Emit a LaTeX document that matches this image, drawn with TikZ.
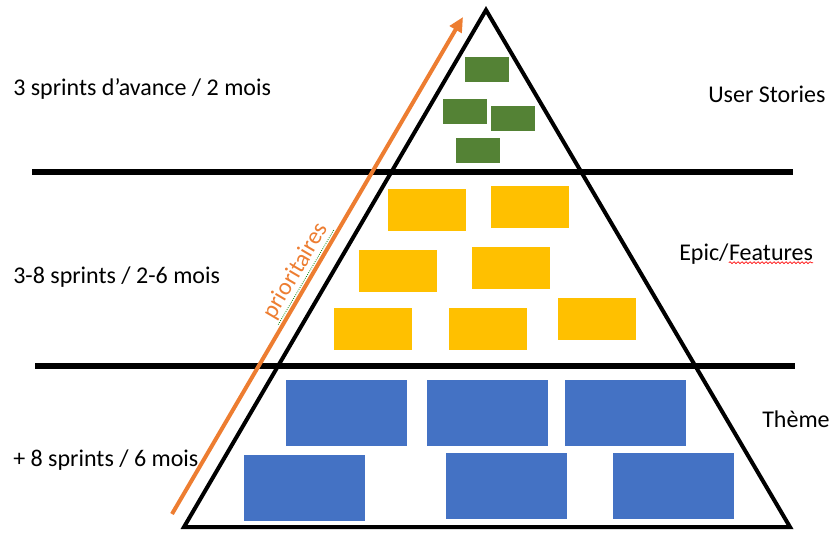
\documentclass[tikz,border=0pt]{standalone}
\usepackage{fontspec}
\setmainfont{Carlito}
\usetikzlibrary{arrows.meta,decorations.pathmorphing}

\begin{document}
\begin{tikzpicture}[x=0.75pt,y=-0.75pt,
  txt/.style={inner sep=0pt,font=\fontsize{18}{21}\selectfont},
  lvl/.style={line width=4.5pt},
  gbox/.style={fill=green!45!black!80,fill=usgreen,minimum width=33pt,minimum height=18.75pt,inner sep=0pt},
  ybox/.style={fill=epyellow,minimum width=58.5pt,minimum height=31.5pt,inner sep=0pt},
  bbox/.style={fill=thblue,minimum width=90.75pt,minimum height=49.5pt,inner sep=0pt}]
\definecolor{usgreen}{HTML}{548235}
\definecolor{epyellow}{HTML}{FFC000}
\definecolor{thblue}{HTML}{4472C4}
\definecolor{prorange}{HTML}{ED7D31}
\useasboundingbox (0,0) rectangle (840,537);

% pyramid
\coordinate (top) at (486,10);
\coordinate (bl) at (184,527);
\coordinate (br) at (790,527);
\draw[line width=3pt,line join=miter] (top) -- (br) -- (bl) -- cycle;

% levels
\coordinate (l1a) at (32,172);
\coordinate (l1b) at (793,172);
\coordinate (l2a) at (35,366);
\coordinate (l2b) at (795,366);
\draw[lvl] (l1a) -- (l1b);
\draw[lvl] (l2a) -- (l2b);

% user stories
\node[gbox] (g1) at (487,69.5) {};
\node[gbox] (g2) at (465,111) {};
\node[gbox] (g3) at (513,118) {};
\node[gbox] (g4) at (477.5,150) {};

% epics / features
\node[ybox] (y1) at (427,210) {};
\node[ybox] (y2) at (530,207) {};
\node[ybox] (y3) at (398,271) {};
\node[ybox] (y4) at (510.5,268) {};
\node[ybox] (y5) at (372.5,329) {};
\node[ybox] (y6) at (488,329) {};
\node[ybox] (y7) at (597,319) {};

% themes
\node[bbox] (b1) at (346.5,413) {};
\node[bbox] (b2) at (487.5,413) {};
\node[bbox] (b3) at (625.5,413) {};
\node[bbox] (b4) at (304.5,488) {};
\node[bbox] (b5) at (506.5,486) {};
\node[bbox] (b6) at (673.5,486) {};

% priority arrow
\coordinate (ps) at (172,514);
\coordinate (pe) at (463,17);
\draw[prorange,line width=3pt,-{Triangle[length=11pt,width=10pt]}] (ps) -- (pe);
\node[txt,prorange,rotate=59.6,inner sep=1pt] (prio) at (296,271) {prioritaires};
\draw[green!50!black,densely dotted,line width=0.6pt] (prio.south west) -- (prio.south east);

% left labels
\node[txt,anchor=base west] (h1) at (13,95) {3 sprints d’avance / 2 mois};
\node[txt,anchor=base west] (h2) at (13,283) {3-8 sprints / 2-6 mois};
\node[txt,anchor=base west] (h3) at (13,466) {+ 8 sprints / 6 mois};

% right labels
\node[txt,anchor=base west] (us) at (708,102) {User Stories};
\node[txt,anchor=base west] (epic) at (679,260) {Epic/};
\node[txt,anchor=base west] (feat) at (epic.base east) {Features};
\draw[red,line width=0.5pt,decorate,decoration={snake,amplitude=0.7pt,segment length=3pt}]
  ([yshift=-2pt]feat.base west) -- ([yshift=-2pt]feat.base east);
\node[txt,anchor=base west] (th) at (762,427) {Thème};
\end{tikzpicture}
\end{document}
